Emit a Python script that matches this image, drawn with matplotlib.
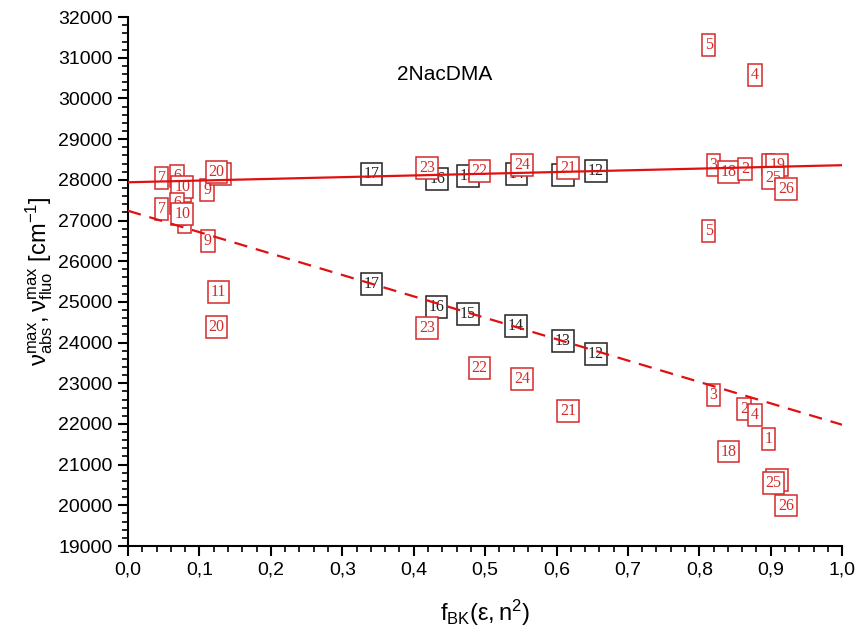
import matplotlib
matplotlib.use("Agg")
import matplotlib.pyplot as plt
from matplotlib.ticker import MultipleLocator, FuncFormatter
import numpy as np

plt.rcParams['font.family'] = ['Liberation Sans', 'DejaVu Sans']
plt.rcParams['mathtext.fontset'] = 'custom'
plt.rcParams['mathtext.rm'] = 'Liberation Sans'
plt.rcParams['mathtext.it'] = 'Liberation Sans'

# ---- data ----
# absorption (upper) points: solvent number, f_BK, wavenumber
abs_labels = ["6", "7", "8", "10", "9", "11", "20",
              "17", "16", "15", "14", "13", "12",
              "23", "22", "24", "21",
              "5", "4", "3", "18", "2", "1", "19", "25", "26"]
abs_x = [0.069, 0.047, 0.078, 0.076, 0.111, 0.129, 0.124,
         0.341, 0.433, 0.476, 0.544, 0.609, 0.655,
         0.419, 0.492, 0.552, 0.616,
         0.813, 0.878, 0.820, 0.841, 0.864, 0.897, 0.909, 0.903, 0.921]
abs_y = [28090, 28040, 27720, 27830, 27750, 28150, 28200,
         28143, 28012, 28093, 28143, 28118, 28216,
         28283, 28224, 28364, 28283,
         31320, 30575, 28364, 28200, 28265, 28380, 28364, 28037, 27766]

# fluorescence (lower) points
fluo_labels = ["6", "7", "8", "10", "9", "11", "20",
               "17", "16", "15", "14", "13", "12",
               "23", "22", "24", "21",
               "5", "3", "2", "4", "1", "18", "19", "25", "26"]
fluo_x = [0.069, 0.047, 0.079, 0.076, 0.112, 0.127, 0.124,
          0.341, 0.432, 0.476, 0.543, 0.609, 0.655,
          0.419, 0.492, 0.552, 0.616,
          0.813, 0.820, 0.863, 0.878, 0.897, 0.841, 0.909, 0.904, 0.921]
fluo_y = [27420, 27275, 26960, 27160, 26500, 25250, 24376,
          25440, 24882, 24703, 24408, 24039, 23713,
          24351, 23369, 23106, 22327,
          26750, 22713, 22369, 22221, 21632, 21320, 20624, 20543, 19993]

# black = solvents 12-17, red = the rest
black_set = {"12", "13", "14", "15", "16", "17"}

# linear fits (intercept, slope)
abs_fit = (27940, 420)
fluo_fit = (27240, -5260)

title_text = "2NacDMA"

RED = "#d42a2a"
BLACK = "#222222"

fig = plt.figure(figsize=(8.62, 6.38), dpi=100)
ax = fig.add_axes([0.1485, 0.1442, 0.8285, 0.829])

def draw_points(xs, ys, labels):
    for x, y, lab in zip(xs, ys, labels):
        c = BLACK if lab in black_set else RED
        ax.text(x, y, lab, ha="center", va="center", fontsize=11.5,
                family="Liberation Serif", color=c, zorder=3,
                bbox=dict(boxstyle="square,pad=0.18", fc="white", ec=c, lw=1.1))

draw_points(abs_x, abs_y, abs_labels)
draw_points(fluo_x, fluo_y, fluo_labels)

xx = np.array([0.0, 1.0])
ax.plot(xx, abs_fit[0] + abs_fit[1] * xx, color="#e01010", lw=1.6, zorder=4)
ax.plot(xx, fluo_fit[0] + fluo_fit[1] * xx, color="#e01010", lw=1.6,
        ls=(0, (6, 4)), zorder=4)

ax.text(0.443, 30600, title_text, fontsize=15, ha="center", va="center")

ax.set_xlim(0, 1.0)
ax.set_ylim(19000, 32000)
ax.xaxis.set_major_locator(MultipleLocator(0.1))
ax.xaxis.set_minor_locator(MultipleLocator(0.02))
ax.yaxis.set_major_locator(MultipleLocator(1000))
ax.yaxis.set_minor_locator(MultipleLocator(200))
ax.xaxis.set_major_formatter(FuncFormatter(lambda v, p: f"{v:.1f}".replace(".", ",")))
ax.yaxis.set_major_formatter(FuncFormatter(lambda v, p: f"{int(round(v))}"))

for s in ["top", "right"]:
    ax.spines[s].set_visible(False)
for s in ["left", "bottom"]:
    ax.spines[s].set_linewidth(1.5)

ax.tick_params(which="major", direction="out", length=7, width=1.5, labelsize=14, pad=4)
ax.tick_params(which="minor", direction="out", length=4, width=1.2)

ax.set_xlabel(r"$\mathregular{f_{BK}(\varepsilon,n^2)}$", fontsize=17, labelpad=14)
ax.set_ylabel(r"$\mathregular{\nu^{max}_{abs},\nu^{max}_{fluo}\ [cm^{-1}]}$", fontsize=17, labelpad=2)

fig.savefig("out.png", dpi=100)
